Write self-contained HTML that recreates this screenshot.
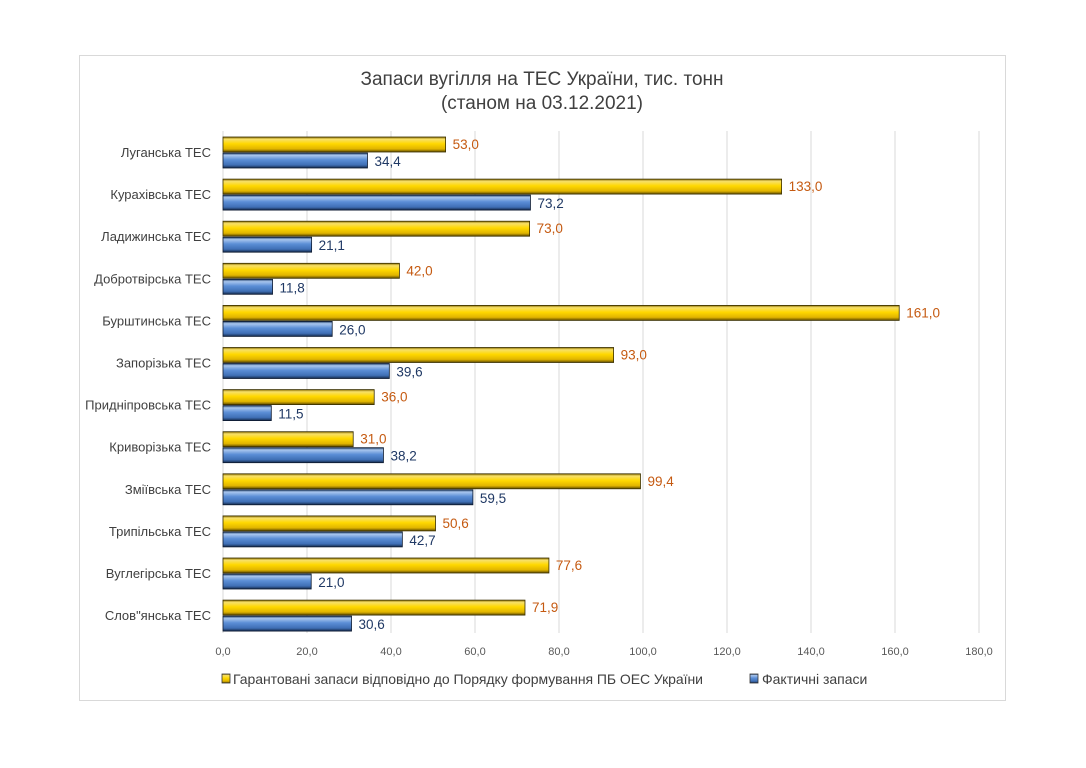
<!DOCTYPE html>
<html><head><meta charset="utf-8"><style>
html,body{margin:0;padding:0;background:#fff;width:1086px;height:768px;overflow:hidden}
svg{position:absolute;left:0;top:0;font-family:"Liberation Sans","DejaVu Sans",sans-serif}
</style></head><body>
<svg id="chart" width="1086" height="768">
<defs>
<linearGradient id="gGold" x1="0" y1="0" x2="0" y2="1">
<stop offset="0" stop-color="#8a6d00"/><stop offset="0.15" stop-color="#f7e06a"/><stop offset="0.45" stop-color="#ffd800"/><stop offset="0.8" stop-color="#e0b400"/><stop offset="1" stop-color="#5e4a00"/></linearGradient>
<linearGradient id="gBlue" x1="0" y1="0" x2="0" y2="1">
<stop offset="0" stop-color="#1f3d66"/><stop offset="0.15" stop-color="#a9c6ee"/><stop offset="0.45" stop-color="#5b8ed6"/><stop offset="0.8" stop-color="#3f6fb5"/><stop offset="1" stop-color="#14294a"/></linearGradient>
</defs>
<rect x="79.5" y="55.5" width="926" height="645" fill="#fff" stroke="#d9d9d9"/>
<text x="542" y="85" text-anchor="middle" font-size="19" fill="#404040">Запаси вугілля на ТЕС України, тис. тонн</text>
<text x="542" y="109" text-anchor="middle" font-size="19" fill="#404040">(станом на 03.12.2021)</text>
<g id="grid"></g><g id="bars"></g><g id="labels"></g>
<g>
<rect x="222" y="674" width="8" height="9" fill="url(#gGold)" stroke="#333" stroke-width="0.8"/>
<text x="233" y="684" font-size="14" fill="#404040" textLength="470">Гарантовані запаси відповідно до Порядку формування ПБ ОЕС України</text>
<rect x="750" y="674" width="8" height="9" fill="url(#gBlue)" stroke="#333" stroke-width="0.8"/>
<text x="762" y="684" font-size="14" fill="#404040">Фактичні запаси</text>
</g>
</svg>
<script>
const categories=["Луганська ТЕС","Курахівська ТЕС","Ладижинська ТЕС","Добротвірська ТЕС","Бурштинська ТЕС","Запорізька ТЕС","Придніпровська ТЕС","Криворізька ТЕС","Зміївська ТЕС","Трипільська ТЕС","Вуглегірська ТЕС","Слов\"янська ТЕС"];
const guaranteed=[53.0,133.0,73.0,42.0,161.0,93.0,36.0,31.0,99.4,50.6,77.6,71.9];
const actual=[34.4,73.2,21.1,11.8,26.0,39.6,11.5,38.2,59.5,42.7,21.0,30.6];
const ticks=[0,20,40,60,80,100,120,140,160,180];
const NS="http://www.w3.org/2000/svg";
const x0=223,x1=979,xmax=180,top0=137,pitch=42.1,bh=15;
const X=v=>x0+(x1-x0)*v/xmax;
const fmt=v=>v.toFixed(1).replace('.',',');
function mk(tag,attrs,parent){const e=document.createElementNS(NS,tag);for(const k in attrs)e.setAttribute(k,attrs[k]);parent.appendChild(e);return e;}
const grid=document.getElementById('grid'),bars=document.getElementById('bars'),lab=document.getElementById('labels');
ticks.forEach(t=>{
 const l=mk('line',{x1:X(t),x2:X(t),y1:131,y2:633,stroke:'#d9d9d9','stroke-width':1},grid);
 
 
 const tx=mk('text',{x:X(t),y:655,'text-anchor':'middle','font-size':11,fill:'#595959'},grid);
 tx.textContent=fmt(t);
 
 
});
categories.forEach((c,i)=>{
 const y=top0+i*pitch;
 const ct=mk('text',{x:211,y:y+20,'text-anchor':'end','font-size':13,fill:'#404040'},lab);
 ct.textContent=c;
 
 
 const g=mk('rect',{x:x0,y:y,width:X(guaranteed[i])-x0,height:bh,fill:'url(#gGold)',stroke:'#3a3000','stroke-width':0.8},bars);
 
 
 const b=mk('rect',{x:x0,y:y+bh+1,width:X(actual[i])-x0,height:bh,fill:'url(#gBlue)',stroke:'#0d1a30','stroke-width':0.8},bars);
 
 
 const gl=mk('text',{x:X(guaranteed[i])+7,y:y+12,'font-size':13.5,fill:'#c55a11'},lab);
 gl.textContent=fmt(guaranteed[i]);
 
 
 const al=mk('text',{x:X(actual[i])+7,y:y+bh+14,'font-size':13.5,fill:'#1f3864'},lab);
 al.textContent=fmt(actual[i]);
 
 
});
</script>
</body></html>
